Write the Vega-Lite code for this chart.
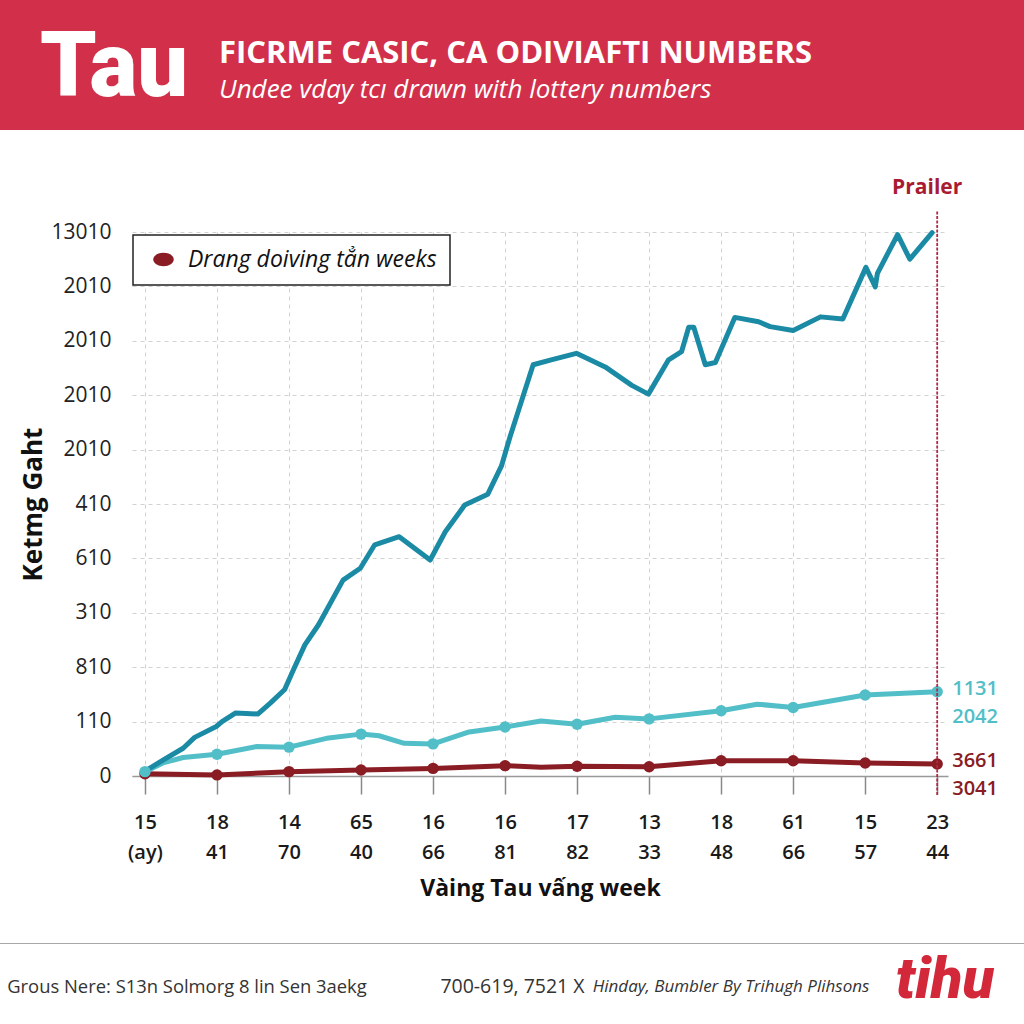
{
  "$schema": "https://vega.github.io/schema/vega-lite/v6.json",
  "padding": 0,
  "background": "white",
  "spacing": 0,
  "config": {"view": {"stroke": null}, "legend": {"strokeWidth": 1.5}},
  "vconcat": [
    {
      "hconcat": [
        {
          "width": 232, "height": 130,
          "view": {"fill": "#d2304a"},
          "data": {"values": [{"t": "Tau"}]},
          "mark": {"type": "text", "font": "Roboto", "fontWeight": 900, "fontSize": 90, "color": "white", "baseline": "alphabetic", "dy": 31, "dx": -2},
          "encoding": {"text": {"field": "t"}}
        },
        {
          "width": 792, "height": 130,
          "view": {"fill": "#d2304a"},
          "title": {
            "text": "FICRME CASIC, CA ODIVIAFTI NUMBERS",
            "subtitle": "Undee vday tcı drawn with lottery numbers",
            "anchor": "start", "frame": "group", "orient": "top",
            "offset": -104, "dx": -13,
            "font": "Open Sans", "fontSize": 31, "fontWeight": 700, "color": "white",
            "subtitleFont": "Open Sans", "subtitleFontSize": 26, "subtitleFontStyle": "italic",
            "subtitleColor": "white", "subtitlePadding": 7
          },
          "data": {"values": []},
          "mark": "point"
        }
      ],
      "spacing": 0,
      "bounds": "flush"
    },
    {"width": 1, "height": 47, "data": {"values": []}, "mark": "point"},
    {
      "hconcat": [
        {"width": 132, "height": 544, "data": {"values": []}, "mark": "point"},
        {
          "width": 816, "height": 544,
          "data": {"values": [
            {"series": "Drang doiving tẳn weeks", "x": 0, "y": 0.04, "m": true},
            {"series": "Drang doiving tẳn weeks", "x": 1, "y": 0.02, "m": true},
            {"series": "Drang doiving tẳn weeks", "x": 2, "y": 0.08, "m": true},
            {"series": "Drang doiving tẳn weeks", "x": 3, "y": 0.11, "m": true},
            {"series": "Drang doiving tẳn weeks", "x": 4, "y": 0.14, "m": true},
            {"series": "Drang doiving tẳn weeks", "x": 5, "y": 0.19, "m": true},
            {"series": "Drang doiving tẳn weeks", "x": 5.5, "y": 0.16, "m": false},
            {"series": "Drang doiving tẳn weeks", "x": 6, "y": 0.18, "m": true},
            {"series": "Drang doiving tẳn weeks", "x": 7, "y": 0.17, "m": true},
            {"series": "Drang doiving tẳn weeks", "x": 8, "y": 0.28, "m": true},
            {"series": "Drang doiving tẳn weeks", "x": 9, "y": 0.28, "m": true},
            {"series": "Drang doiving tẳn weeks", "x": 10, "y": 0.24, "m": true},
            {"series": "Drang doiving tẳn weeks", "x": 11, "y": 0.22, "m": true, "a": "3661", "b": "3041"},
            {"series": "base", "x": 0, "y": 0.08, "m": true},
            {"series": "base", "x": 0.25, "y": 0.24, "m": false},
            {"series": "base", "x": 0.53, "y": 0.34, "m": false},
            {"series": "base", "x": 1, "y": 0.4, "m": true},
            {"series": "base", "x": 1.54, "y": 0.54, "m": false},
            {"series": "base", "x": 2, "y": 0.53, "m": true},
            {"series": "base", "x": 2.55, "y": 0.7, "m": false},
            {"series": "base", "x": 3, "y": 0.77, "m": true},
            {"series": "base", "x": 3.25, "y": 0.74, "m": false},
            {"series": "base", "x": 3.6, "y": 0.6, "m": false},
            {"series": "base", "x": 4, "y": 0.59, "m": true},
            {"series": "base", "x": 4.5, "y": 0.81, "m": false},
            {"series": "base", "x": 5, "y": 0.9, "m": true},
            {"series": "base", "x": 5.5, "y": 1.01, "m": false},
            {"series": "base", "x": 6, "y": 0.95, "m": true},
            {"series": "base", "x": 6.53, "y": 1.08, "m": false},
            {"series": "base", "x": 7, "y": 1.05, "m": true},
            {"series": "base", "x": 8, "y": 1.2, "m": true},
            {"series": "base", "x": 8.5, "y": 1.32, "m": false},
            {"series": "base", "x": 9, "y": 1.26, "m": true},
            {"series": "base", "x": 10, "y": 1.49, "m": true},
            {"series": "base", "x": 11, "y": 1.55, "m": true, "a": "1131", "b": "2042"},
            {"series": "trend", "x": 0, "y": 0.09, "m": false},
            {"series": "trend", "x": 0.25, "y": 0.29, "m": false},
            {"series": "trend", "x": 0.53, "y": 0.51, "m": false},
            {"series": "trend", "x": 0.69, "y": 0.71, "m": false},
            {"series": "trend", "x": 0.99, "y": 0.91, "m": false},
            {"series": "trend", "x": 1.07, "y": 1.0, "m": false},
            {"series": "trend", "x": 1.26, "y": 1.16, "m": false},
            {"series": "trend", "x": 1.57, "y": 1.14, "m": false},
            {"series": "trend", "x": 1.74, "y": 1.34, "m": false},
            {"series": "trend", "x": 1.94, "y": 1.59, "m": false},
            {"series": "trend", "x": 2.06, "y": 1.95, "m": false},
            {"series": "trend", "x": 2.22, "y": 2.41, "m": false},
            {"series": "trend", "x": 2.41, "y": 2.78, "m": false},
            {"series": "trend", "x": 2.75, "y": 3.6, "m": false},
            {"series": "trend", "x": 2.99, "y": 3.82, "m": false},
            {"series": "trend", "x": 3.19, "y": 4.25, "m": false},
            {"series": "trend", "x": 3.53, "y": 4.4, "m": false},
            {"series": "trend", "x": 3.96, "y": 3.97, "m": false},
            {"series": "trend", "x": 4.17, "y": 4.49, "m": false},
            {"series": "trend", "x": 4.44, "y": 4.98, "m": false},
            {"series": "trend", "x": 4.76, "y": 5.18, "m": false},
            {"series": "trend", "x": 4.95, "y": 5.7, "m": false},
            {"series": "trend", "x": 5.07, "y": 6.24, "m": false},
            {"series": "trend", "x": 5.39, "y": 7.56, "m": false},
            {"series": "trend", "x": 5.64, "y": 7.65, "m": false},
            {"series": "trend", "x": 5.99, "y": 7.77, "m": false},
            {"series": "trend", "x": 6.39, "y": 7.52, "m": false},
            {"series": "trend", "x": 6.76, "y": 7.18, "m": false},
            {"series": "trend", "x": 6.99, "y": 7.02, "m": false},
            {"series": "trend", "x": 7.27, "y": 7.65, "m": false},
            {"series": "trend", "x": 7.45, "y": 7.8, "m": false},
            {"series": "trend", "x": 7.55, "y": 8.25, "m": false},
            {"series": "trend", "x": 7.62, "y": 8.25, "m": false},
            {"series": "trend", "x": 7.78, "y": 7.56, "m": false},
            {"series": "trend", "x": 7.92, "y": 7.6, "m": false},
            {"series": "trend", "x": 8.19, "y": 8.43, "m": false},
            {"series": "trend", "x": 8.52, "y": 8.35, "m": false},
            {"series": "trend", "x": 8.68, "y": 8.26, "m": false},
            {"series": "trend", "x": 9.0, "y": 8.19, "m": false},
            {"series": "trend", "x": 9.38, "y": 8.44, "m": false},
            {"series": "trend", "x": 9.69, "y": 8.4, "m": false},
            {"series": "trend", "x": 10.01, "y": 9.35, "m": false},
            {"series": "trend", "x": 10.14, "y": 8.99, "m": false},
            {"series": "trend", "x": 10.17, "y": 9.24, "m": false},
            {"series": "trend", "x": 10.45, "y": 9.95, "m": false},
            {"series": "trend", "x": 10.62, "y": 9.5, "m": false},
            {"series": "trend", "x": 10.93, "y": 9.99, "m": false}
          ]},
          "layer": [
            {
              "mark": {"type": "line", "strokeWidth": 5, "strokeJoin": "round", "strokeCap": "round"},
              "encoding": {
                "x": {
                  "field": "x", "type": "quantitative",
                  "scale": {"domain": [-0.18, 11.15], "nice": false, "zero": false},
                  "axis": {
                    "values": [0, 1, 2, 3, 4, 5, 6, 7, 8, 9, 10, 11],
                    "labelExpr": "[['15','(ay)'],['18','41'],['14','70'],['65','40'],['16','66'],['16','81'],['17','82'],['13','33'],['18','48'],['61','66'],['15','57'],['23','44']][datum.value]",
                    "title": "Vàing Tau vấng week",
                    "grid": true, "gridColor": "#d2d2d2", "gridDash": [4, 4], "gridWidth": 1,
                    "domainColor": "#999999", "domainWidth": 1.5,
                    "tickColor": "#888888", "tickSize": 18, "tickWidth": 1.5,
                    "labelFont": "Open Sans", "labelFontSize": 20, "labelFontWeight": 600, "labelColor": "#1a1a1a",
                    "labelPadding": 18, "labelLineHeight": 30, "labelFlush": false, "labelOverlap": false,
                    "titleFont": "Open Sans", "titleFontSize": 23, "titleFontWeight": 700, "titleColor": "#111111", "titlePadding": 15
                  }
                },
                "y": {
                  "field": "y", "type": "quantitative",
                  "scale": {"domain": [0, 10], "nice": false, "zero": false},
                  "axis": {
                    "values": [0, 1, 2, 3, 4, 5, 6, 7, 8, 9, 10],
                    "labelExpr": "['0','110','810','310','610','410','2010','2010','2010','2010','13010'][datum.value]",
                    "title": "Ketmg Gaht",
                    "grid": true, "gridColor": "#d2d2d2", "gridDash": [4, 4], "gridWidth": 1,
                    "domain": false, "ticks": false,
                    "labelPadding": 21, "labelFont": "Open Sans", "labelFontSize": 21, "labelColor": "#222222", "labelFlush": false,
                    "titleFont": "Open Sans", "titleFontSize": 26, "titleFontWeight": 700, "titleColor": "#111111", "titlePadding": 4
                  }
                },
                "color": {
                  "field": "series", "type": "nominal",
                  "scale": {"domain": ["Drang doiving tẳn weeks", "base", "trend"], "range": ["#8a1c24", "#52bec8", "#1a8aa5"]},
                  "legend": {
                    "values": ["Drang doiving tẳn weeks"],
                    "title": null, "orient": "none", "legendX": 133, "legendY": 235,
                    "strokeColor": "#222222", "fillColor": "white", "padding": 13,
                    "labelFont": "Open Sans", "labelFontSize": 23, "labelFontStyle": "italic", "labelColor": "#111111",
                    "labelLimit": 400, "labelOffset": 13, "symbolOffset": 6,
                    "symbolType": "M-1,0A1,0.65,0,1,1,1,0A1,0.65,0,1,1,-1,0Z",
                    "symbolSize": 420, "symbolFillColor": "#8a1c24", "symbolStrokeWidth": 0, "symbolOpacity": 1
                  }
                }
              }
            },
            {
              "transform": [{"filter": "datum.m"}],
              "mark": {"type": "point", "filled": true, "size": 130, "opacity": 1, "strokeWidth": 0},
              "encoding": {
                "x": {"field": "x", "type": "quantitative"},
                "y": {"field": "y", "type": "quantitative"},
                "color": {"field": "series", "type": "nominal", "legend": null}
              }
            },
            {
              "data": {"values": [{"x": 11, "label": "Prailer"}]},
              "mark": {"type": "rule", "color": "#b02a45", "strokeWidth": 1.8, "strokeDash": [3, 1.5]},
              "encoding": {
                "x": {"field": "x", "type": "quantitative"},
                "y": {"datum": -0.35},
                "y2": {"datum": 10.4}
              }
            },
            {
              "data": {"values": [{"x": 11, "label": "Prailer"}]},
              "mark": {"type": "text", "font": "Open Sans", "fontWeight": 700, "fontSize": 21, "color": "#a91b32", "baseline": "bottom", "dx": -10, "dy": -12},
              "encoding": {
                "x": {"field": "x", "type": "quantitative"},
                "y": {"datum": 10.4},
                "text": {"field": "label"}
              }
            },
            {
              "transform": [{"filter": "datum.a"}],
              "mark": {"type": "text", "font": "Open Sans", "fontWeight": 600, "fontSize": 20, "align": "left", "baseline": "middle", "dx": 15, "dy": -3},
              "encoding": {
                "x": {"field": "x", "type": "quantitative"},
                "y": {"field": "y", "type": "quantitative"},
                "text": {"field": "a"},
                "color": {"field": "series", "type": "nominal", "legend": null}
              }
            },
            {
              "transform": [{"filter": "datum.b"}],
              "mark": {"type": "text", "font": "Open Sans", "fontWeight": 600, "fontSize": 20, "align": "left", "baseline": "middle", "dx": 15, "dy": 25},
              "encoding": {
                "x": {"field": "x", "type": "quantitative"},
                "y": {"field": "y", "type": "quantitative"},
                "text": {"field": "b"},
                "color": {"field": "series", "type": "nominal", "legend": null}
              }
            }
          ]
        }
      ],
      "spacing": 0,
      "bounds": "flush"
    },
    {"width": 1, "height": 43, "data": {"values": []}, "mark": "point"},
    {"width": 1024, "height": 1, "view": {"fill": "#a8a8a8"}, "data": {"values": []}, "mark": "point"},
    {
      "hconcat": [
        {
          "width": 374, "height": 80,
          "data": {"values": [{"t": "Grous Nere: S13n Solmorg 8 lin Sen 3aekg"}]},
          "mark": {"type": "text", "font": "Open Sans", "fontSize": 18.4, "color": "#333333", "baseline": "middle", "dy": 3},
          "encoding": {"text": {"field": "t"}}
        },
        {
          "width": 277, "height": 80,
          "data": {"values": [{"t": "700-619, 7521 X"}]},
          "mark": {"type": "text", "font": "Open Sans", "fontSize": 19.5, "color": "#333333", "baseline": "middle", "dy": 3},
          "encoding": {"text": {"field": "t"}}
        },
        {
          "width": 160, "height": 80,
          "data": {"values": [{"t": "Hinday, Bumbler By Trihugh Plihsons"}]},
          "mark": {"type": "text", "font": "Open Sans", "fontSize": 17, "fontStyle": "italic", "color": "#333333", "baseline": "middle", "dy": 3},
          "encoding": {"text": {"field": "t"}}
        },
        {"width": 55, "height": 80, "data": {"values": []}, "mark": "point"},
        {
          "width": 158, "height": 80,
          "data": {"values": [{"t": "tihu"}]},
          "mark": {"type": "text", "font": "Roboto", "fontSize": 58, "fontWeight": 900, "fontStyle": "italic", "color": "#d3283a", "baseline": "middle", "dy": -3},
          "encoding": {"text": {"field": "t"}}
        }
      ],
      "spacing": 0,
      "bounds": "flush"
    }
  ]
}
